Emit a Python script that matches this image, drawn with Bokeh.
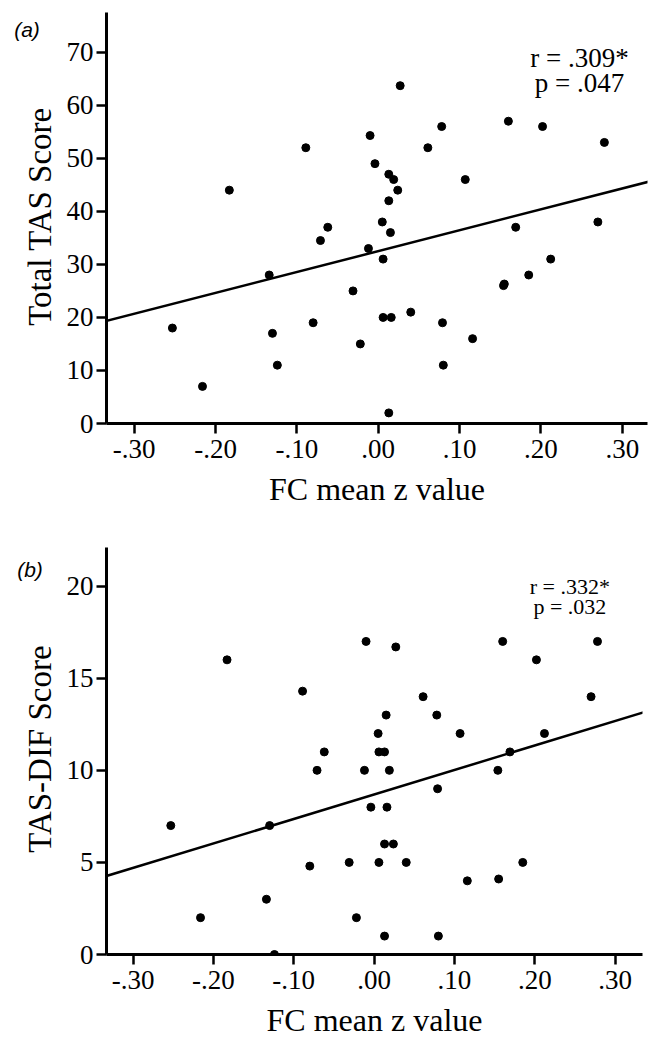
import math
from bokeh.plotting import figure
from bokeh.models import Range1d, Slope, Label, FixedTicker, CustomJSTickFormatter
from bokeh.layouts import column, row
from bokeh.embed import file_html
from bokeh.resources import INLINE

# ---- data ----
fc_mean_z = [-0.253, -0.216, -0.183, -0.134, -0.130, -0.124, -0.089, -0.080, -0.071, -0.062,
             -0.031, -0.022, -0.012, -0.010, -0.004, 0.005, 0.006, 0.006, 0.013, 0.013,
             0.013, 0.015, 0.016, 0.019, 0.024, 0.027, 0.040, 0.061, 0.078, 0.079,
             0.080, 0.107, 0.116, 0.154, 0.155, 0.160, 0.169, 0.185, 0.202, 0.212,
             0.270, 0.278]
tas_total = [18, 7, 44, 28, 17, 11, 52, 19, 34.5, 37,
             25, 15, 33, 54.3, 49, 38, 31, 20, 47, 42,
             2, 36, 20, 46, 44, 63.7, 21, 52, 56, 19,
             11, 46, 16, 26, 26.3, 57, 37, 28, 56, 31,
             38, 53]
tas_dif = [7, 2, 16, 3, 7, 0, 14.3, 4.8, 10, 11,
           5, 2, 10, 17, 8, 12, 11, 5, 11, 6,
           1, 13, 8, 10, 6, 16.7, 5, 14, 13, 9,
           1, 12, 4, 10, 4.1, 17, 11, 5, 16, 12,
           14, 17]

# regression lines (intercept, slope)
fit_total = (32.5, 39.4)
fit_dif = (8.69, 13.3)

x_ticks = [-0.3, -0.2, -0.1, 0.0, 0.1, 0.2, 0.3]
x_tick_labels = ["-.30", "-.20", "-.10", ".00", ".10", ".20", ".30"]
y_ticks_a = [0, 10, 20, 30, 40, 50, 60, 70]
y_ticks_b = [0, 5, 10, 15, 20]

stats_a = ["r = .309*", "p = .047"]
stats_b = ["r = .332*", "p = .032"]

SERIF = "Liberation Serif"
STRIP_W = 56          # narrow strip holding the panel tag and the y-axis title
MAIN_W = 652 - STRIP_W


def style(p, yticks):
    p.outline_line_color = None
    p.xgrid.grid_line_color = None
    p.ygrid.grid_line_color = None
    p.background_fill_color = "white"
    p.border_fill_color = "white"
    p.xaxis.ticker = FixedTicker(ticks=x_ticks)
    p.xaxis.formatter = CustomJSTickFormatter(
        args=dict(tvals=x_ticks, tlabels=x_tick_labels),
        code="""
        for (let i = 0; i < tvals.length; i++) {
            if (Math.abs(tvals[i] - tick) < 1e-9) return tlabels[i];
        }
        return '';
        """)
    p.yaxis.ticker = FixedTicker(ticks=yticks)
    p.xaxis.axis_label = "FC mean z value"
    for ax in (p.xaxis[0], p.yaxis[0]):
        ax.axis_line_width = 3
        ax.axis_line_color = "black"
        ax.major_tick_line_width = 2.5
        ax.major_tick_line_color = "black"
        ax.major_tick_out = 10
        ax.major_tick_in = 0
        ax.minor_tick_line_color = None
        ax.major_label_text_font = SERIF
        ax.major_label_text_font_size = "27px"
        ax.major_label_text_color = "black"
        ax.axis_label_text_font = SERIF
        ax.axis_label_text_font_size = "32px"
        ax.axis_label_text_font_style = "normal"
        ax.axis_label_text_color = "black"
    p.xaxis.major_label_standoff = 6
    p.yaxis.major_label_standoff = 3
    p.xaxis.axis_label_standoff = 10


def strip(height, frame_top, frame_bottom, ylabel, ylabel_xy, tag, tag_xy):
    # a frame-only figure; the row aligns its frame with the neighbouring plot's frame,
    # so its data units are set equal to canvas pixels (y measured from the top)
    s = figure(width=STRIP_W, height=height, x_range=Range1d(0, STRIP_W),
               y_range=Range1d(frame_bottom, frame_top), output_backend="svg",
               toolbar_location=None, x_axis_location=None, y_axis_location=None,
               min_border_left=0, min_border_right=0, min_border_top=frame_top,
               min_border_bottom=height - frame_bottom)
    s.outline_line_color = None
    s.xgrid.grid_line_color = None
    s.ygrid.grid_line_color = None
    s.background_fill_color = "white"
    s.border_fill_color = "white"
    s.add_layout(Label(x=ylabel_xy[0], y=ylabel_xy[1], text=ylabel, angle=math.pi / 2,
                       text_font=SERIF, text_font_size="33px", text_align="center",
                       text_baseline="middle", text_color="black"))
    s.add_layout(Label(x=tag_xy[0], y=tag_xy[1], text=tag, text_font="Liberation Sans",
                       text_font_style="italic", text_font_size="21px", text_align="center",
                       text_baseline="middle", text_color="black"))
    return s


# ---- panel (a) ----
H1 = 528
p1 = figure(width=MAIN_W, height=H1, x_range=Range1d(-0.334, 0.331), y_range=Range1d(0, 77.5),
            output_backend="svg", toolbar_location=None,
            min_border_left=106 - STRIP_W, min_border_right=5, min_border_top=12,
            min_border_bottom=105)
style(p1, y_ticks_a)
p1.add_layout(Slope(gradient=fit_total[1], y_intercept=fit_total[0],
                    line_color="black", line_width=2.5))
p1.scatter(fc_mean_z, tas_total, size=8, color="black")
p1.add_layout(Label(x=0.2475, y=68.9, text=stats_a[0], text_font=SERIF, text_font_size="27px",
                    text_align="center", text_baseline="alphabetic", text_color="black"))
p1.add_layout(Label(x=0.2475, y=64.2, text=stats_a[1], text_font=SERIF, text_font_size="27px",
                    text_align="center", text_baseline="alphabetic", text_color="black"))
s1 = strip(H1, 12, 423, "Total TAS Score", (39, 216), "(a)", (26.5, 29))

# ---- panel (b) ----
H2 = 512
p2 = figure(width=MAIN_W, height=H2, x_range=Range1d(-0.333, 0.334), y_range=Range1d(0, 22.1),
            output_backend="svg", toolbar_location=None,
            min_border_left=106 - STRIP_W, min_border_right=10, min_border_top=19,
            min_border_bottom=83)
style(p2, y_ticks_b)
p2.add_layout(Slope(gradient=fit_dif[1], y_intercept=fit_dif[0],
                    line_color="black", line_width=2.5))
p2.scatter(fc_mean_z, tas_dif, size=8, color="black")
p2.add_layout(Label(x=0.2436, y=20.0, text=stats_b[0], text_font=SERIF, text_font_size="22px",
                    text_align="center", text_baseline="alphabetic", text_color="black"))
p2.add_layout(Label(x=0.2436, y=18.88, text=stats_b[1], text_font=SERIF, text_font_size="22px",
                    text_align="center", text_baseline="alphabetic", text_color="black"))
s2 = strip(H2, 19, 429, "TAS-DIF Score", (39, 222), "(b)", (29.5, 41))

layout = column(row(s1, p1), row(s2, p2))
open("out.html", "w").write(file_html(layout, INLINE))
